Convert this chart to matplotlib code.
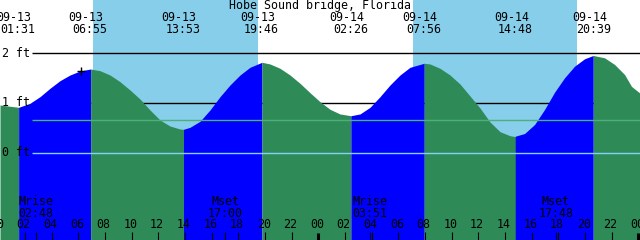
import matplotlib
matplotlib.use("Agg")
import matplotlib.pyplot as plt
import matplotlib.transforms as mtransforms

# hours counted from 09-13 00:00
t_start, t_end = 0.12, 48.12

# tide curve (hours, feet)
tide_h = [0.12, 1.517, 2.37, 3.12, 3.87, 4.62, 5.37, 6.12, 6.917, 7.62, 8.37,
          9.12, 9.87, 10.62, 11.37, 12.12, 12.87, 13.62, 13.883, 14.37, 15.12,
          15.87, 16.62, 17.37, 18.12, 18.87, 19.767, 20.37, 21.12, 21.87, 22.62,
          23.37, 24.12, 24.87, 25.62, 26.433, 27.12, 27.87, 28.62, 29.37, 30.12,
          30.87, 31.933, 32.37, 33.12, 33.87, 34.62, 35.37, 36.12, 36.87, 37.62,
          38.37, 38.8, 39.5, 40.25, 41.0, 41.75, 42.5, 43.25, 44.0, 44.65,
          45.5, 46.25, 47.0, 47.52, 48.12]
tide_ft = [0.956, 0.909, 0.99, 1.123, 1.292, 1.445, 1.559, 1.64, 1.68, 1.646, 1.559,
           1.425, 1.258, 1.076, 0.855, 0.654, 0.533, 0.473, 0.467, 0.507, 0.628,
           0.855, 1.123, 1.358, 1.559, 1.714, 1.815, 1.781, 1.694, 1.559, 1.392,
           1.203, 1.022, 0.869, 0.775, 0.740, 0.775, 0.909, 1.123, 1.358, 1.559,
           1.714, 1.795, 1.781, 1.694, 1.559, 1.378, 1.137, 0.895, 0.614, 0.419,
           0.338, 0.318, 0.372, 0.553, 0.855, 1.203, 1.493, 1.726, 1.875, 1.942,
           1.895, 1.761, 1.559, 1.32, 1.191]

# high / low tide events
event_h = [1.517, 6.917, 13.883, 19.767, 26.433, 31.933, 38.8, 44.65]
event_date = ["09-13", "09-13", "09-13", "09-13", "09-14", "09-14", "09-14", "09-14"]
event_time = ["01:31", "06:55", "13:53", "19:46", "02:26", "07:56", "14:48", "20:39"]

# daylight (sunrise, sunset)
day_spans = [(7.06, 19.50), (31.10, 43.40)]

# moon rise / set
moon_h = [2.8, 17.0, 27.85, 41.8]
moon_name = ["Mrise", "Mset", "Mrise", "Mset"]
moon_time = ["02:48", "17:00", "03:51", "17:48"]

now_h, now_ft = 6.2, 1.64
msl_ft = 0.65
depth_lines = [1, 2]

night_col = "#00BFFF"
day_col = "#87CEEB"
flood_col = "#0000FF"
ebb_col = "#2E8B57"

plt.rcParams["font.family"] = ["DejaVu Sans Mono"]
fs = 8.4

fig = plt.figure(figsize=(6.4, 2.4), dpi=100)
ax = fig.add_axes([0, 0, 1, 1])
ax.set_facecolor(night_col)
ax.set_xlim(t_start, t_end)
ax.set_ylim(-1.76, 3.068)
ax.axis("off")
ax.patch.set_visible(True)

for a, b in day_spans:
    ax.axvspan(a, b, color=day_col, lw=0, zorder=0)

line_x0 = 2.52
for d in depth_lines:
    ax.hlines(d, line_x0, t_end, color="black", lw=1.0, zorder=1)

# water, blue while rising, green while falling
bounds = [tide_h[0]] + event_h + [tide_h[-1]]
for a, b in zip(bounds[:-1], bounds[1:]):
    idx = [i for i, h in enumerate(tide_h) if a <= h <= b]
    xs = [tide_h[i] for i in idx]
    ys = [tide_ft[i] for i in idx]
    col = flood_col if ys[-1] > ys[0] else ebb_col
    ax.fill_between(xs, ys, -3, color=col, lw=0, zorder=2, antialiased=True)

ax.hlines(0, line_x0, t_end, color="#87CEFA", lw=1.0, zorder=3)
ax.hlines(msl_ft, line_x0, t_end, color="#4CB07A", lw=1.0, zorder=3)

ax.plot([now_h], [now_ft], marker="+", color="black", ms=6, mew=1, zorder=4)

trans = mtransforms.blended_transform_factory(ax.transData, ax.transAxes)

def ypx(p):
    return 1 - p / 240.0

for lab, d in zip(["2 ft", "1 ft", "0 ft"], [2, 1, 0]):
    ax.text(2 / 640, d, lab, transform=mtransforms.blended_transform_factory(ax.transAxes, ax.transData),
            ha="left", va="center", fontsize=fs, zorder=5)

ax.text(0.5, ypx(6), "Hobe Sound bridge, Florida", transform=ax.transAxes,
        ha="center", va="center", fontsize=fs, zorder=5)

for h, dt, tm in zip(event_h, event_date, event_time):
    ax.text(h - 0.33, ypx(17.5), dt, transform=trans, ha="center", va="center", fontsize=fs, zorder=5)
    ax.text(h - 0.04, ypx(29.5), tm, transform=trans, ha="center", va="center", fontsize=fs, zorder=5)

for h, nm, tm in zip(moon_h, moon_name, moon_time):
    ax.text(h, ypx(201.5), nm, transform=trans, ha="center", va="center", fontsize=fs, zorder=5)
    ax.text(h, ypx(213.5), tm, transform=trans, ha="center", va="center", fontsize=fs, zorder=5)

# hour ticks along the bottom
for h in range(0, 49, 2):
    ax.text(h - 0.1, ypx(225), "%02d" % (h % 24), transform=trans,
            ha="center", va="center", fontsize=fs, zorder=5)
    if h % 24 == 0:
        ax.vlines(h, 0, ypx(232.5), transform=trans, color="black", lw=2.2, zorder=5)
    else:
        ax.vlines(h, 0, ypx(232), transform=trans, color="black", lw=0.8, zorder=5)
ax.vlines(moon_h, 0, ypx(232), transform=trans, color="black", lw=0.8, zorder=5)

fig.savefig("out.png", dpi=100)
